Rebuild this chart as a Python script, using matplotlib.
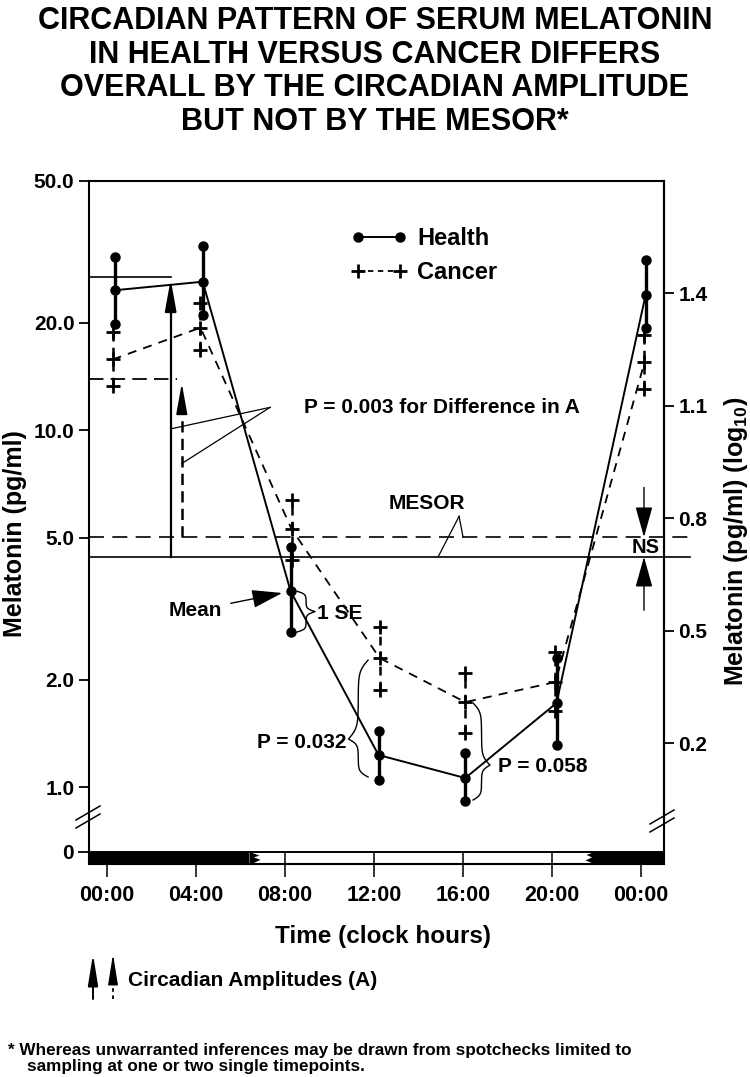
import numpy as np
import matplotlib
matplotlib.use('Agg')
import matplotlib.pyplot as plt
from matplotlib.patches import Rectangle, Polygon
from matplotlib.lines import Line2D
from matplotlib.ticker import NullLocator
from matplotlib import font_manager

# ---------------- data ----------------
health_hours = [0.35, 4.3, 8.25, 12.2, 16.1, 20.2, 24.2]
health_mean = [24.7, 26.1, 3.54, 1.23, 1.06, 1.72, 23.9]
health_upper = [30.7, 32.8, 4.70, 1.44, 1.245, 2.30, 30.1]
health_lower = [19.9, 21.1, 2.72, 1.05, 0.914, 1.31, 19.3]

cancer_hours = [0.25, 4.2, 8.3, 12.25, 16.1, 20.15, 24.15]
cancer_mean = [15.8, 19.4, 5.28, 2.30, 1.73, 1.97, 15.5]
cancer_upper = [18.9, 22.7, 6.37, 2.81, 2.09, 2.39, 18.5]
cancer_lower = [13.3, 16.8, 4.32, 1.87, 1.42, 1.63, 13.1]

health_mesor = 4.42
cancer_mesor = 5.02
health_peak = 26.9     # MESOR + amplitude, health
cancer_peak = 13.9     # MESOR + amplitude, cancer

tick_hours = [0, 4, 8, 12, 16, 20, 24]
tick_labels = ['00:00', '04:00', '08:00', '12:00', '16:00', '20:00', '00:00']
left_ticks = [1.0, 2.0, 5.0, 10.0, 20.0, 50.0]
right_ticks = [0.2, 0.5, 0.8, 1.1, 1.4, 1.7]
dark_spans = [(-0.81, 6.4), (21.9, 25.03)]

title_lines = ["CIRCADIAN PATTERN OF SERUM MELATONIN",
               "IN HEALTH VERSUS CANCER DIFFERS",
               "OVERALL BY THE CIRCADIAN AMPLITUDE",
               "BUT NOT BY THE MESOR*"]

# ---------------- style ----------------
plt.rcParams['font.family'] = ['Liberation Sans', 'DejaVu Sans']
plt.rcParams['font.weight'] = 'bold'
plt.rcParams['axes.labelweight'] = 'bold'
plt.rcParams['mathtext.fontset'] = 'custom'
plt.rcParams['mathtext.rm'] = 'Liberation Sans:bold'
plt.rcParams['mathtext.bf'] = 'Liberation Sans:bold'
plt.rcParams['mathtext.it'] = 'Liberation Sans:bold'
plt.rcParams['mathtext.default'] = 'bf'

names = {f.name for f in font_manager.fontManager.ttflist}
narrow = 'Liberation Sans Narrow' if 'Liberation Sans Narrow' in names else None

W, H = 750, 1077
fig = plt.figure(figsize=(W / 100, H / 100), dpi=100)


def fx(px):
    return px / W


def fy(py):
    return 1 - py / H


XL = (-0.81, 25.03)
ax = fig.add_axes([fx(89), fy(818), fx(664) - fx(89), fy(181) - fy(818)])
axb = fig.add_axes([fx(89), fy(864), fx(664) - fx(89), fy(818) - fy(864)])

# main (log) axes
ax.set_yscale('log')
ax.set_ylim(0.819, 50)
ax.set_xlim(*XL)
ax.spines['bottom'].set_visible(False)
for s in ('left', 'right', 'top'):
    ax.spines[s].set_linewidth(1.5)
ax.tick_params(axis='x', which='both', bottom=False, labelbottom=False)
ax.set_yticks(left_ticks)
ax.set_yticklabels(['%.1f' % v for v in left_ticks])
ax.yaxis.set_minor_locator(NullLocator())
ax.tick_params(axis='y', which='major', direction='out', length=7.5, width=1.3,
               labelsize=15, pad=3)
ax.set_ylabel('Melatonin (pg/ml)', fontsize=18)
ax.yaxis.set_label_coords(-0.108, 0.446)

sec = ax.secondary_yaxis('right', functions=(np.log10, lambda v: 10 ** v))
sec.set_yticks(right_ticks)
sec.set_yticklabels(['%.1f' % v for v in right_ticks])
sec.yaxis.set_minor_locator(NullLocator())
sec.tick_params(axis='y', which='major', direction='out', length=7.5, width=1.3,
                labelsize=15, pad=3)
sec.spines['right'].set_linewidth(1.5)
sec.set_ylabel('Melatonin (pg/ml) (log$_{10}$)', fontsize=18)
sec.yaxis.set_label_coords(1.101, 0.435, transform=ax.transAxes)

# bottom "zero" axes with light/dark bar
axb.set_xlim(*XL)
axb.set_ylim(-1, 2.833)
axb.spines['top'].set_visible(False)
for s in ('left', 'right', 'bottom'):
    axb.spines[s].set_linewidth(1.5)
axb.set_yticks([0])
axb.set_yticklabels(['0'])
axb.tick_params(axis='y', direction='out', length=8, width=1.3, labelsize=15, pad=3)
axb.set_xticks(tick_hours)
axb.set_xticklabels(tick_labels)
axb.tick_params(axis='x', direction='inout', length=18, width=1.1, labelsize=15.5, pad=6)
axb.patch.set_alpha(0)
axb.axhline(0, color='k', lw=1.4, zorder=3)
for (a, b) in dark_spans:
    axb.add_patch(Rectangle((a, -1), b - a, 1, facecolor='k', edgecolor='none', zorder=2))
# jagged hand-drawn ends of the dark bars
a0 = dark_spans[0][1]
axb.add_patch(Polygon([(a0, 0), (a0 + 0.45, -0.3), (a0 + 0.2, -0.45), (a0 + 0.5, -0.65),
                       (a0 + 0.1, -1), (a0, -1)], closed=True, facecolor='k',
                      edgecolor='none', zorder=2))
b0 = dark_spans[1][0]
axb.add_patch(Polygon([(b0, 0), (b0 - 0.35, -0.25), (b0 - 0.1, -0.45), (b0 - 0.4, -0.7),
                       (b0, -1)], closed=True, facecolor='k', edgecolor='none', zorder=2))
axb.set_xlabel('Time (clock hours)', fontsize=17.5)
axb.xaxis.set_label_coords(0.511, -1.33)

# ---------------- data marks ----------------
# Cancer (dashed, +)
ax.plot(cancer_hours, cancer_mean, color='k', lw=1.3, dashes=(5, 4), zorder=3)
ax.vlines(cancer_hours, cancer_lower, cancer_upper, colors='k', lw=1.8,
          linestyles=(0, (3.5, 2.5)), zorder=3)
for arr in (cancer_mean, cancer_upper, cancer_lower):
    ax.plot(cancer_hours, arr, linestyle='none', marker='+', ms=10, mew=2.0,
            color='k', zorder=4)

# Health (solid, dots)
ax.plot(health_hours, health_mean, color='k', lw=1.4, zorder=5)
ax.vlines(health_hours, health_lower, health_upper, colors='k', lw=2.4, zorder=5)
for arr in (health_mean, health_upper, health_lower):
    ax.plot(health_hours, arr, linestyle='none', marker='o', ms=6.5, color='k', zorder=6)

# legend
h_health = Line2D([], [], color='k', lw=1.4, marker='o', ms=6.5)
h_cancer = Line2D([], [], color='k', lw=1.3, dashes=(3, 2.5), marker='+', ms=10, mew=2.0)
ax.legend([h_health, h_cancer], ['Health', 'Cancer'], loc='upper left',
          bbox_to_anchor=(fx(351), fy(227)), bbox_transform=fig.transFigure,
          frameon=False, numpoints=2, handlelength=2.38, handletextpad=0.42,
          labelspacing=0.48, borderpad=0, borderaxespad=0, fontsize=17)

# ---------------- MESOR and amplitude annotations ----------------
ax.plot([XL[0], 26.2], [health_mesor] * 2, color='k', lw=1.2, clip_on=False, zorder=2)
ax.plot([XL[0], 26.2], [cancer_mesor] * 2, color='k', lw=1.2, dashes=(9, 5),
        clip_on=False, zorder=2)

# health amplitude (solid)
xa = 2.86
ax.plot([XL[0], xa], [health_peak] * 2, color='k', lw=1.2, zorder=2)
ax.plot([xa, xa], [health_mesor, health_peak / 1.1], color='k', lw=1.6, zorder=2)
ax.annotate('', xy=(xa, health_peak * 0.985), xytext=(xa, health_peak / 1.2),
            arrowprops=dict(arrowstyle='-|>,head_length=1.0,head_width=0.18',
                            mutation_scale=19, color='k', lw=1.6,
                            shrinkA=0, shrinkB=0))
# cancer amplitude (dashed)
xc = 3.36
ax.plot([XL[0], 3.13], [cancer_peak] * 2, color='k', lw=1.3, dashes=(8, 4), zorder=2)
ax.plot([xc, xc], [cancer_mesor, cancer_peak / 1.12], color='k', lw=1.8,
        dashes=(4.5, 2.5), zorder=2)
ax.annotate('', xy=(xc, cancer_peak * 0.975), xytext=(xc, cancer_peak / 1.2),
            arrowprops=dict(arrowstyle='-|>,head_length=1.0,head_width=0.18',
                            mutation_scale=19, color='k', lw=1.2,
                            shrinkA=0, shrinkB=0))

# P = 0.003 text + leaders
ax.text(8.85, 11.6, 'P = 0.003 for Difference in A', ha='left', va='center', fontsize=15)
ax.plot([7.33, 2.88], [11.6, 10.1], color='k', lw=0.9)
ax.plot([7.33, 3.37], [11.6, 8.08], color='k', lw=0.9)

# MESOR label
ax.text(14.38, 6.25, 'MESOR', ha='center', va='center', fontsize=15)
ax.plot([15.82, 16.0], [5.74, cancer_mesor], color='k', lw=0.9)
ax.plot([15.82, 14.88], [5.74, health_mesor], color='k', lw=0.9)

# NS with arrows
ax.text(24.2, 4.68, 'NS', ha='center', va='center', fontsize=14.5)
ax.annotate('', xy=(24.13, cancer_mesor), xytext=(24.13, 6.92),
            arrowprops=dict(arrowstyle='-|>,head_length=1.0,head_width=0.28',
                            mutation_scale=19, color='k', lw=1.0, shrinkA=0, shrinkB=0),
            annotation_clip=False)
ax.annotate('', xy=(24.13, health_mesor), xytext=(24.13, 3.13),
            arrowprops=dict(arrowstyle='-|>,head_length=1.0,head_width=0.28',
                            mutation_scale=19, color='k', lw=1.0, shrinkA=0, shrinkB=0),
            annotation_clip=False)

# Mean
ax.annotate('Mean', xy=(7.87, 3.50), xytext=(3.99, 3.13), ha='center', va='center',
            fontsize=15,
            arrowprops=dict(arrowstyle='-|>,head_length=1.0,head_width=0.3',
                            mutation_scale=19, color='k', lw=1.0, shrinkA=4, shrinkB=0))


def brace(x0, v0, v1, width, tip_frac=0.5, b=14, lw=1.0):
    l0, l1 = np.log10(v0), np.log10(v1)
    lt = l0 + tip_frac * (l1 - l0)
    t = np.linspace(0, 1, 80)
    sig = lambda z: 1.0 / (1.0 + np.exp(-z))
    s = sig(b * t) + sig(b * (t - 1)) - 0.5
    s = (s - s[0]) / (s[-1] - s[0])
    xs = np.concatenate([x0 + width * s, x0 + width * s[::-1]])
    ls = np.concatenate([l0 + t * (lt - l0), lt + t * (l1 - lt)])
    ax.plot(xs, 10 ** ls, color='k', lw=lw, zorder=4)


# 1 SE
brace(8.54, health_mean[2], health_lower[2], 0.81, tip_frac=0.5)
ax.text(9.45, 3.07, '1 SE', ha='left', va='center', fontsize=15)
# P = 0.032
brace(11.73, 2.27, 1.067, -0.88, tip_frac=0.675)
ax.text(10.75, 1.335, 'P = 0.032', ha='right', va='center', fontsize=15)
# P = 0.058
brace(16.45, 1.72, 0.92, 0.76, tip_frac=0.64)
ax.text(17.57, 1.14, 'P = 0.058', ha='left', va='center', fontsize=15)

# ---------------- axis breaks ----------------
for (cx, cy) in ((88, 817), (662, 821)):
    for dy in (-4, 4):
        fig.add_artist(Line2D([fx(cx - 12), fx(cx + 12)],
                              [fy(cy + dy + 7), fy(cy + dy - 7)],
                              color='k', lw=1.1, transform=fig.transFigure))

# ---------------- texts outside plot ----------------
if narrow:
    tkw = dict(family=[narrow, 'Liberation Sans'], fontsize=25.5)
else:
    tkw = dict(fontsize=22)
for i, line in enumerate(title_lines):
    fig.text(0.5, fy(21 + 33.7 * i), line, ha='center', va='center', **tkw)

ax.annotate('', xy=(fx(93), fy(954)), xycoords='figure fraction',
            xytext=(fx(93), fy(999)), textcoords='figure fraction',
            arrowprops=dict(arrowstyle='-|>,head_length=1.0,head_width=0.16',
                            mutation_scale=19, color='k', lw=1.4, shrinkA=0, shrinkB=0),
            annotation_clip=False)
fig.add_artist(Line2D([fx(113), fx(113)], [fy(999), fy(972)], color='k', lw=1.3,
                      dashes=(2, 2), transform=fig.transFigure))
ax.annotate('', xy=(fx(113), fy(954)), xycoords='figure fraction',
            xytext=(fx(113), fy(975)), textcoords='figure fraction',
            arrowprops=dict(arrowstyle='-|>,head_length=1.0,head_width=0.16',
                            mutation_scale=19, color='k', lw=1.0, shrinkA=0, shrinkB=0),
            annotation_clip=False)
fig.text(fx(128), fy(980), 'Circadian Amplitudes (A)', ha='left', va='center', fontsize=15)

fig.text(fx(8), fy(1050),
         '* Whereas unwarranted inferences may be drawn from spotchecks limited to',
         ha='left', va='center', fontsize=12.3)
fig.text(fx(27), fy(1066), 'sampling at one or two single timepoints.',
         ha='left', va='center', fontsize=12.3)

fig.savefig('out.png', dpi=100)
